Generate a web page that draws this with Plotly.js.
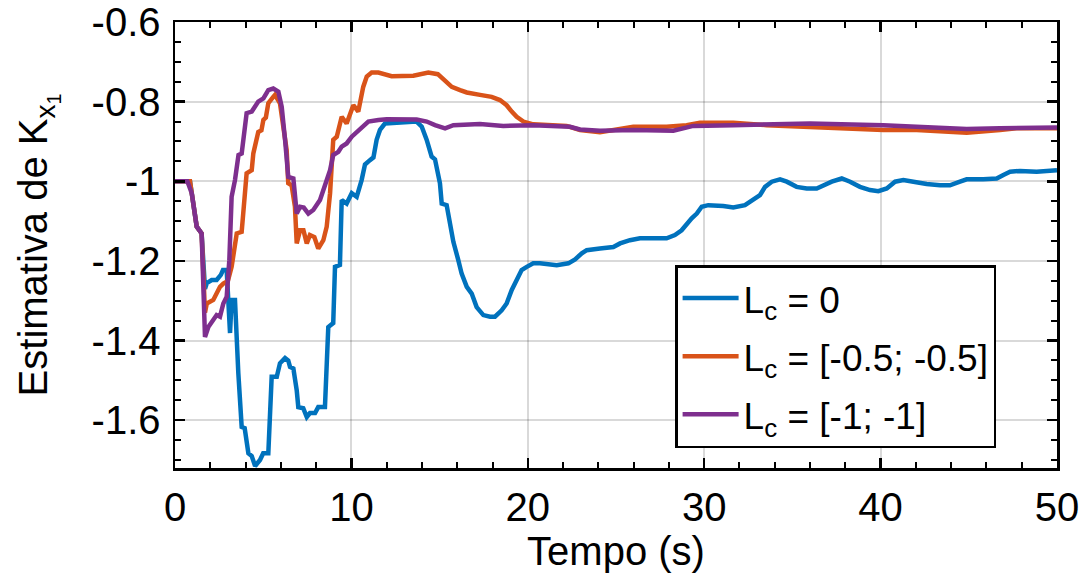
<!DOCTYPE html>
<html><head><meta charset="utf-8">
<script src="https://cdn.plot.ly/plotly-3.0.1.min.js"></script>
<style>html,body{margin:0;padding:0;background:#fff;}#plot{width:1086px;height:579px;}</style>
</head><body><div id="plot"></div>
<script>
// Lc = 0
const blueT = [0,0.85,0.95,1.23,1.51,1.7,1.8,2.08,2.36,2.6,2.72,2.93,3.02,3.12,3.21,3.4,3.59,3.78,3.95,4.16,4.35,4.54,4.82,5.0,5.29,5.48,5.77,5.95,6.24,6.42,6.52,6.71,6.9,6.99,7.27,7.47,7.65,7.94,8.12,8.5,8.69,8.97,9.07,9.35,9.45,9.73,10.02,10.3,10.58,10.77,11.05,11.25,11.43,11.62,11.9,12.5,13.0,13.7,13.99,14.27,14.55,14.74,15.02,15.12,15.4,15.59,15.78,16.06,16.25,16.54,16.82,17.1,17.48,17.86,18.14,18.52,18.8,19.09,19.37,19.65,19.94,20.31,20.69,21.26,21.64,22.3,22.68,23.06,23.34,24.09,24.85,25.23,25.79,26.36,27.87,28.34,28.72,29.29,29.58,29.86,30.23,31.08,31.65,32.31,32.78,33.16,33.45,33.83,34.3,34.68,35.24,35.81,36.38,36.75,37.23,37.8,38.27,38.83,39.4,39.87,40.35,40.82,41.29,41.86,42.61,43.37,43.93,44.5,44.88,45.82,46.58,46.96,47.34,47.9,48.85,50];
const blueV = [-1.0,-1.0,-1.03,-1.114,-1.131,-1.27,-1.256,-1.248,-1.248,-1.235,-1.223,-1.223,-1.298,-1.381,-1.298,-1.298,-1.482,-1.617,-1.62,-1.683,-1.69,-1.715,-1.70,-1.683,-1.683,-1.491,-1.491,-1.457,-1.444,-1.45,-1.466,-1.47,-1.525,-1.567,-1.57,-1.592,-1.582,-1.582,-1.567,-1.567,-1.366,-1.356,-1.215,-1.21,-1.047,-1.056,-1.03,-1.039,-0.997,-0.958,-0.947,-0.94,-0.896,-0.871,-0.855,-0.853,-0.854,-0.85,-0.863,-0.896,-0.938,-0.945,-1.005,-1.056,-1.06,-1.106,-1.152,-1.198,-1.232,-1.265,-1.282,-1.316,-1.336,-1.34,-1.34,-1.324,-1.307,-1.273,-1.248,-1.223,-1.215,-1.206,-1.206,-1.21,-1.211,-1.206,-1.196,-1.181,-1.173,-1.169,-1.165,-1.156,-1.148,-1.143,-1.143,-1.135,-1.123,-1.093,-1.081,-1.064,-1.06,-1.062,-1.066,-1.06,-1.047,-1.035,-1.014,-1.001,-0.995,-1.001,-1.014,-1.018,-1.018,-1.01,-1.001,-0.993,-1.001,-1.014,-1.022,-1.025,-1.018,-1.001,-0.997,-1.001,-1.007,-1.01,-1.01,-1.001,-0.995,-0.995,-0.993,-0.984,-0.976,-0.974,-0.976,-0.972];
// Lc = [-0.5; -0.5]
const orangeT = [0,0.85,0.95,1.23,1.51,1.7,1.8,2.17,2.55,2.74,3.0,3.21,3.5,3.78,4.06,4.35,4.44,4.72,4.9,5.01,5.15,5.29,5.57,5.67,5.95,6.14,6.33,6.42,6.61,6.8,6.9,7.09,7.28,7.47,7.65,7.9,8.12,8.41,8.6,8.79,8.97,9.17,9.45,9.73,10.11,10.39,10.67,10.87,11.15,11.53,12.0,12.28,13.51,14.0,14.36,14.9,15.21,15.69,16.16,16.54,17.29,17.95,18.42,18.8,19.09,19.37,19.75,20.31,22.2,22.96,24.09,25.04,25.98,27.87,29.0,29.76,31.65,33.54,35.43,37.32,40.15,42.05,44.88,46.77,47.7,50];
const orangeV = [-1.0,-1.0,-1.03,-1.114,-1.131,-1.33,-1.307,-1.298,-1.265,-1.257,-1.25,-1.215,-1.131,-1.127,-0.98,-0.972,-0.93,-0.876,-0.872,-0.846,-0.84,-0.804,-0.788,-0.783,-0.804,-0.863,-0.922,-1.005,-1.01,-1.064,-1.156,-1.123,-1.123,-1.156,-1.135,-1.14,-1.169,-1.148,-1.114,-1.03,-0.896,-0.888,-0.838,-0.855,-0.809,-0.825,-0.763,-0.737,-0.727,-0.727,-0.733,-0.736,-0.735,-0.731,-0.727,-0.731,-0.744,-0.763,-0.771,-0.777,-0.783,-0.788,-0.796,-0.809,-0.825,-0.838,-0.85,-0.857,-0.861,-0.871,-0.877,-0.871,-0.863,-0.863,-0.859,-0.853,-0.853,-0.859,-0.863,-0.867,-0.871,-0.871,-0.878,-0.871,-0.867,-0.867];
// Lc = [-1; -1]
const purpleT = [0,0.7,0.95,1.23,1.51,1.7,1.89,2.17,2.36,2.55,2.74,2.93,3.08,3.21,3.4,3.6,3.78,4.06,4.35,4.72,5.01,5.29,5.57,5.86,6.05,6.24,6.42,6.71,6.9,7.09,7.3,7.56,7.84,8.22,8.5,8.79,8.97,9.26,9.45,9.73,10.02,10.3,10.67,10.96,11.53,12.0,13.7,14.27,14.74,15.31,15.78,17.29,18.61,20.31,22.39,22.96,24.09,25.98,28.25,29.38,31.65,34.49,36.0,40.15,42.05,44.88,46.77,50];
const purpleV = [-1.0,-1.0,-1.03,-1.114,-1.131,-1.391,-1.366,-1.349,-1.336,-1.34,-1.307,-1.29,-1.198,-1.039,-0.997,-0.934,-0.93,-0.829,-0.825,-0.8,-0.792,-0.771,-0.767,-0.775,-0.813,-0.896,-0.989,-0.993,-1.081,-1.064,-1.066,-1.081,-1.072,-1.047,-1.01,-0.972,-0.934,-0.926,-0.913,-0.905,-0.888,-0.876,-0.859,-0.85,-0.846,-0.844,-0.845,-0.85,-0.859,-0.867,-0.859,-0.856,-0.861,-0.859,-0.863,-0.87,-0.873,-0.871,-0.873,-0.861,-0.859,-0.855,-0.855,-0.859,-0.863,-0.869,-0.867,-0.865];

const seriesNames = ['L<sub>c</sub> = 0','L<sub>c</sub> = [-0.5; -0.5]','L<sub>c</sub> = [-1; -1]'];
const colors = ['#0072BD','#D95319','#7E2F8E'];
const xTickVals = [0,10,20,30,40,50];
const yTickVals = [-1.6,-1.4,-1.2,-1,-0.8,-0.6];
const yTickText = ['-1.6','-1.4','-1.2','-1','-0.8','-0.6'];

const font = {family:'Liberation Sans, Arial, Helvetica, sans-serif', size:40, color:'#000'};
const legendFont = {family:'Liberation Sans, Arial, Helvetica, sans-serif', size:37, color:'#000'};
const traces = [[blueT,blueV],[orangeT,orangeV],[purpleT,purpleV]].map((d,i)=>({
  x:d[0], y:d[1], type:'scatter', mode:'lines', name:seriesNames[i], legendgroup:'g'+i,
  line:{color:colors[i], width:4.5}
}));

const axisCommon = {
  showline:true, linecolor:'#000', linewidth:2.5, mirror:'ticks',
  ticks:'inside', ticklen:10, tickwidth:2.5, tickcolor:'#000',
  showgrid:true, gridcolor:'rgba(0,0,0,0.15)', gridwidth:2,
  zeroline:false, tickfont:font, automargin:false
};
const layout = {
  width:1086, height:579,
  margin:{l:175, r:29, t:22, b:111},
  paper_bgcolor:'#fff', plot_bgcolor:'#fff',
  font:font, showlegend:true,
  xaxis: Object.assign({}, axisCommon, {
    range:[0,50], tickvals:xTickVals, ticklabelstandoff:2,
    minor:{dtick:2, ticks:'inside', ticklen:6, tickwidth:2, tickcolor:'#000', showgrid:false},
    title:{text:'Tempo (s)', font:font, standoff:2}
  }),
  yaxis: Object.assign({}, axisCommon, {
    range:[-1.72,-0.6], tickvals:yTickVals, ticktext:yTickText, ticklabelstandoff:4,
    minor:{dtick:0.05, tick0:-0.6, ticks:'inside', ticklen:6, tickwidth:2, tickcolor:'#000', showgrid:false},
    title:{text:'Estimativa de K<sub>x<sub>1</sub></sub>', font:font, standoff:32}
  }),
  legend:{x:0.567, y:0.455, xanchor:'left', yanchor:'top', bgcolor:'#fff',
    bordercolor:'#000', borderwidth:2.5, font:legendFont, itemwidth:56, tracegroupgap:7,
    traceorder:'grouped'}
};
Plotly.newPlot('plot', traces, layout, {displayModeBar:false, staticPlot:true});
</script></body></html>
